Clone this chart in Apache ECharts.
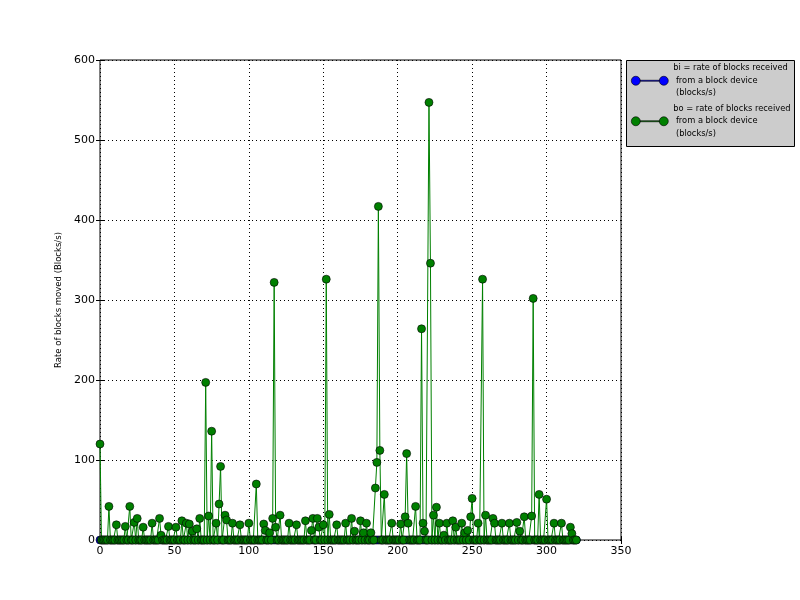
<!DOCTYPE html>
<html>
<head>
<meta charset="utf-8">
<script src="https://cdn.jsdelivr.net/npm/echarts@6/dist/echarts.min.js"></script>
<style>html,body{margin:0;padding:0;background:#fff}#c{width:800px;height:600px}</style>
</head>
<body>
<div id="c"></div>
<script>
// bo = rate of blocks received from a block device (blocks/s), one value per sample index 0..320
var boValues = [
  120,0,0,0,0,0,42,0,0,0,0,19,0,0,0,0,0,17,0,0,
  42,0,0,22,0,27,0,0,0,16,0,0,0,0,0,21,0,0,0,0,
  27,6,0,0,0,0,17,0,0,0,0,16,0,0,0,24,0,0,21,0,
  20,0,11,0,0,14,0,27,0,0,0,197,0,30,0,136,0,0,21,0,
  45,92,0,0,31,25,0,0,0,21,0,0,0,0,19,0,0,0,0,0,
  21,0,0,0,0,70,0,0,0,0,20,12,0,0,9,0,27,322,16,0,
  0,31,0,0,0,0,0,21,0,0,0,0,19,0,0,0,0,0,24,0,
  0,0,12,27,0,0,27,16,0,0,19,0,326,0,32,0,0,0,0,19,
  0,0,0,0,0,21,0,0,0,27,0,11,0,0,0,24,0,9,0,21,
  0,0,9,0,0,65,97,417,112,0,0,57,0,0,0,0,21,0,0,0,
  0,0,20,0,0,29,108,21,0,0,0,0,42,0,0,0,264,21,11,0,
  0,547,346,0,31,0,41,0,21,0,0,6,0,21,0,0,0,24,0,16,
  0,0,0,21,0,9,0,12,0,29,52,0,0,0,21,0,0,326,0,31,
  0,0,0,0,27,21,0,0,0,0,21,0,0,0,0,21,0,0,0,0,
  22,0,11,0,0,29,0,0,0,0,30,302,0,0,0,57,0,0,0,0,
  51,0,0,0,0,21,0,0,0,0,21,0,0,0,0,0,16,8,0,0,
  0
];
// bi = rate of blocks received from a block device (blocks/s)
var biValues = [
  0,0,0,0,0,0,0,0,0,0,0,0,0,0,0,0,0,0,0,0,
  0,0,0,0,0,0,0,0,0,0,0,0,0,0,0,0,0,0,0,0,
  0,0,0,0,0,0,0,0,0,0,0,0,0,0,0,0,0,0,0,0,
  0,0,0,0,0,0,0,0,0,0,0,0,0,0,0,0,0,0,0,0,
  0,0,0,0,0,0,0,0,0,0,0,0,0,0,0,0,0,0,0,0,
  0,0,0,0,0,0,0,0,0,0,0,0,0,0,0,0,0,0,0,0,
  0,0,0,0,0,0,0,0,0,0,0,0,0,0,0,0,0,0,0,0,
  0,0,0,0,0,0,0,0,0,0,0,0,0,0,0,0,0,0,0,0,
  0,0,0,0,0,0,0,0,0,0,0,0,0,0,0,0,0,0,0,0,
  0,0,0,0,0,0,0,0,0,0,0,0,0,0,0,0,0,0,0,0,
  0,0,0,0,0,0,0,0,0,0,0,0,0,0,0,0,0,0,0,0,
  0,0,0,0,0,0,0,0,0,0,0,0,0,0,0,0,0,0,0,0,
  0,0,0,0,0,0,0,0,0,0,0,0,0,0,0,0,0,0,0,0,
  0,0,0,0,0,0,0,0,0,0,0,0,0,0,0,0,0,0,0,0,
  0,0,0,0,0,0,0,0,0,0,0,0,0,0,0,0,0,0,0,0,
  0,0,0,0,0,0,0,0,0,0,0,0,0,0,0,0,0,0,0,0,
  0
];
var seriesNames = [
  "bi = rate of blocks received\n from a block device\n (blocks/s)",
  "bo = rate of blocks received\n from a block device\n (blocks/s)"
];
var xTicks = [0, 50, 100, 150, 200, 250, 300, 350];
var yTicks = [0, 100, 200, 300, 400, 500, 600];
var yTitle = "Rate of blocks moved (Blocks/s)";

function pairs(arr) { return arr.map(function (v, i) { return [i, v]; }); }

var font = "DejaVu Sans, sans-serif";
var legendIcon = 'path://M0,5A4.5,4.5,0,1,0,9,5A4.5,4.5,0,1,0,0,5Z M28,5A4.5,4.5,0,1,0,37,5A4.5,4.5,0,1,0,28,5Z M9,4.5L28,4.5L28,5.5L9,5.5Z';

var chart = echarts.init(document.getElementById('c'), null, { renderer: 'canvas' });
var baseX = {
  type: 'value', min: xTicks[0], max: xTicks[xTicks.length - 1], interval: 50,
  axisLine: { show: false },
  axisTick: { show: true, inside: true, length: 4, lineStyle: { color: '#000' } }
};
var baseY = {
  type: 'value', min: yTicks[0], max: yTicks[yTicks.length - 1], interval: 100,
  axisLine: { show: false },
  axisTick: { show: true, inside: true, length: 4, lineStyle: { color: '#000' } }
};
chart.setOption({
  animation: false,
  backgroundColor: '#fff',
  grid: { left: 100, top: 60, width: 521, height: 480, show: true, borderColor: '#000', borderWidth: 1, backgroundColor: 'transparent', outerBoundsMode: 'none' },
  graphic: [{
    type: 'rect', left: 626, top: 60, z: 0,
    shape: { width: 168, height: 86 },
    style: { fill: '#cccccc', stroke: '#000', lineWidth: 1 }
  }],
  legend: {
    orient: 'vertical', left: 626, top: 62, z: 10,
    padding: [0, 0, 0, 5],
    itemWidth: 37, itemHeight: 10, itemGap: 3,
    icon: legendIcon,
    itemStyle: { borderColor: '#000', borderWidth: 0.6 },
    textStyle: { fontFamily: font, fontSize: 8.3, color: '#000', lineHeight: 12.5, padding: [0, 0, 0, 0] },
    data: seriesNames
  },
  xAxis: [
    Object.assign({}, baseX, {
      position: 'bottom',
      axisLabel: { color: '#000', fontFamily: font, fontSize: 11, margin: 6 },
      splitLine: { show: true, lineStyle: { color: '#000', type: [1, 3], width: 1 } }
    }),
    Object.assign({}, baseX, { position: 'top', axisLabel: { show: false }, splitLine: { show: false } })
  ],
  yAxis: [
    Object.assign({}, baseY, {
      position: 'left',
      name: yTitle, nameLocation: 'middle', nameGap: 31, nameRotate: 90,
      nameTextStyle: { color: '#000', fontFamily: font, fontSize: 8.5 },
      axisLabel: { color: '#000', fontFamily: font, fontSize: 11, margin: 5 },
      splitLine: { show: true, lineStyle: { color: '#000', type: [1, 3], width: 1 } }
    }),
    Object.assign({}, baseY, { position: 'right', axisLabel: { show: false }, splitLine: { show: false } })
  ],
  series: [
    {
      name: seriesNames[0], type: 'line', data: pairs(biValues), clip: false,
      symbol: 'circle', symbolSize: 8, showAllSymbol: true,
      lineStyle: { color: '#0000ff', width: 1 },
      itemStyle: { color: '#0000ff', borderColor: '#000', borderWidth: 0.6 }
    },
    {
      name: seriesNames[1], type: 'line', data: pairs(boValues), clip: false,
      symbol: 'circle', symbolSize: 8, showAllSymbol: true,
      lineStyle: { color: '#008000', width: 1 },
      itemStyle: { color: '#008000', borderColor: '#000', borderWidth: 0.6 }
    }
  ]
});
</script>
</body>
</html>
